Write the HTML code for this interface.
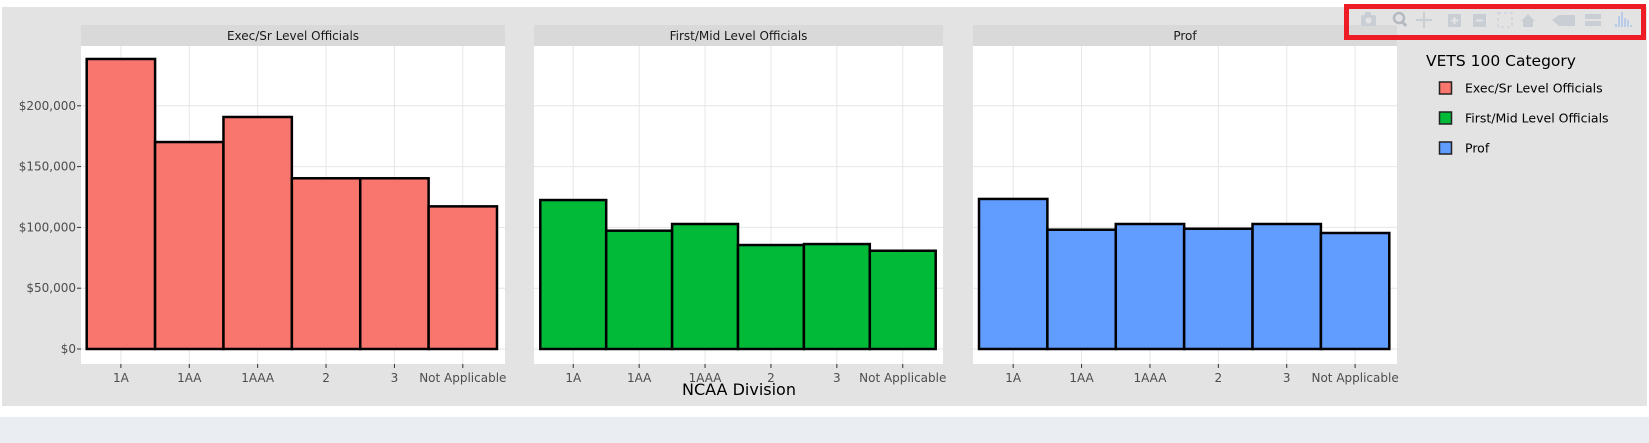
<!DOCTYPE html>
<html><head><meta charset="utf-8"><style>
html,body{margin:0;padding:0;background:#fff;}
svg{display:block;font-family:"DejaVu Sans","Liberation Sans",sans-serif;}
</style></head><body>
<svg id="chart" width="1649" height="443" viewBox="0 0 1649 443">
<rect x="0" y="0" width="1649" height="443" fill="#ffffff"/>
<rect x="0" y="417" width="1649" height="26" fill="#eaedf2"/>
<rect x="2" y="7" width="1645" height="399" fill="#e3e3e3"/>
<g id="panels"></g>
<text x="739" y="395" font-size="16" fill="#000" text-anchor="middle">NCAA Division</text>
<g>
<text x="1426" y="66" font-size="15.5" fill="#000">VETS 100 Category</text>
<g id="legend-items"></g>
</g>
<g>
<rect x="1346.5" y="6.5" width="297" height="31" fill="none" stroke="#ee1c24" stroke-width="5"/>
<g fill="#c9ced5">
<g><rect x="1361" y="15" width="15" height="11" rx="2"/><rect x="1365" y="12" width="6" height="4"/><circle cx="1368.5" cy="20.5" r="3" fill="#e3e3e3"/></g>
<g><circle cx="1399" cy="18" r="5" fill="none" stroke="#b5bac1" stroke-width="2.5"/><rect x="1402" y="21" width="6" height="3" transform="rotate(45 1403 22)" fill="#b5bac1"/></g>
<g><rect x="1416" y="19" width="16" height="2"/><rect x="1423" y="12" width="2" height="16"/></g>
<g><rect x="1448" y="14" width="13" height="13"/><rect x="1451" y="19.5" width="7" height="2" fill="#e3e3e3"/><rect x="1453.5" y="17" width="2" height="7" fill="#e3e3e3"/></g>
<g><rect x="1473" y="14" width="13" height="13"/><rect x="1476" y="19.5" width="7" height="2" fill="#e3e3e3"/></g>
<g><rect x="1498" y="13" width="14" height="14" fill="none" stroke="#d0d4da" stroke-width="1.5" stroke-dasharray="3 3"/></g>
<g><polygon points="1521,21 1528,14 1535,21 1533,21 1533,27 1523,27 1523,21"/></g>
<g><polygon points="1552,20 1559,15 1575,15 1575,26 1559,26"/></g>
<g><rect x="1585" y="14" width="16" height="5"/><rect x="1585" y="21" width="16" height="5"/></g>
<g fill="#b9cbe6"><rect x="1615" y="24" width="2" height="3"/><rect x="1618" y="16" width="2" height="11"/><rect x="1621" y="12" width="2" height="15"/><rect x="1624" y="18" width="2" height="9"/><rect x="1627" y="20" width="2" height="7"/><rect x="1630" y="25" width="2" height="2"/></g>
</g>
</g>
</svg>
<script>
const categories = ["1A","1AA","1AAA","2","3","Not Applicable"];
const panelNames = ["Exec/Sr Level Officials","First/Mid Level Officials","Prof"];
const execValues = [238500,170200,190800,140400,140400,117300];
const firstMidValues = [122500,97300,102800,85500,86300,80800];
const profValues = [123400,98100,102800,98900,102800,95400];
const yTicks = [0,50000,100000,150000,200000];
const yTickLabels = ["$0","$50,000","$100,000","$150,000","$200,000"];
const colors = ["#f8766d","#00ba38","#619cff"];

const NS = "http://www.w3.org/2000/svg";
const series = [execValues, firstMidValues, profValues];
const layout = [
  {x0:81, x1:505, b0:86.7, b1:497},
  {x0:534, x1:943, b0:540.3, b1:935.7},
  {x0:973, x1:1397, b0:979, b1:1389.3}
];
const yZero = 349, pxPer = 60.8/50000;
function yScale(v){ return yZero - v*pxPer; }
function mk(tag, attrs, parent){
  const el = document.createElementNS(NS, tag);
  for (const k in attrs) el.setAttribute(k, attrs[k]);
  parent.appendChild(el);
  return el;
}
const panels = document.getElementById('panels');
layout.forEach((L, p) => {
  const g = mk('g', {}, panels);
  
  
  const strip = mk('rect', {x:L.x0, y:25, width:L.x1-L.x0, height:21, fill:'#d9d9d9'}, g);
  
  
  const st = mk('text', {x:(L.x0+L.x1)/2, y:40, 'font-size':12, fill:'#1a1a1a', 'text-anchor':'middle'}, g);
  st.textContent = panelNames[p];
  
  
  const bg = mk('rect', {x:L.x0, y:46, width:L.x1-L.x0, height:318, fill:'#ffffff'}, g);
  
  
  const bw = (L.b1-L.b0)/categories.length;
  yTicks.forEach((t, i) => {
    const y = yScale(t);
    const gl = mk('line', {x1:L.x0, x2:L.x1, y1:y, y2:y, stroke:'#e6e6e6', 'stroke-width':1}, g);
    
    
    if (p === 0) {
      const tk = mk('line', {x1:77, x2:81, y1:y, y2:y, stroke:'#333', 'stroke-width':1}, g);
      
      
      const tl = mk('text', {x:76, y:y+4, 'font-size':12, fill:'#4d4d4d', 'text-anchor':'end'}, g);
      tl.textContent = yTickLabels[i];
      
      
    }
  });
  categories.forEach((c, i) => {
    const cx = L.b0 + bw*(i+0.5);
    const vg = mk('line', {x1:cx, x2:cx, y1:46, y2:364, stroke:'#e6e6e6', 'stroke-width':1}, g);
    
    
  });
  categories.forEach((c, i) => {
    const v = series[p][i];
    const x = L.b0 + bw*i;
    const bar = mk('rect', {x:x, y:yScale(v), width:bw, height:yZero-yScale(v), fill:colors[p], stroke:'#000', 'stroke-width':2.5}, g);
    
    
    const cx = x + bw/2;
    const tk = mk('line', {x1:cx, x2:cx, y1:364, y2:368, stroke:'#333', 'stroke-width':1}, g);
    
    
    const tl = mk('text', {x:cx, y:382, 'font-size':12, fill:'#4d4d4d', 'text-anchor':'middle'}, g);
    tl.textContent = c;
    
    
  });
});
const li = document.getElementById('legend-items');
panelNames.forEach((n, i) => {
  const y = 88 + i*30;
  const g = mk('g', {}, li);
  
  
  const sw = mk('rect', {x:1439.5, y:y-6, width:12, height:12, fill:colors[i], stroke:'#222', 'stroke-width':1.5}, g);
  
  
  const t = mk('text', {x:1465, y:y+4.5, 'font-size':12.5, fill:'#000'}, g);
  t.textContent = n;
  
  
});
</script>
</body></html>
